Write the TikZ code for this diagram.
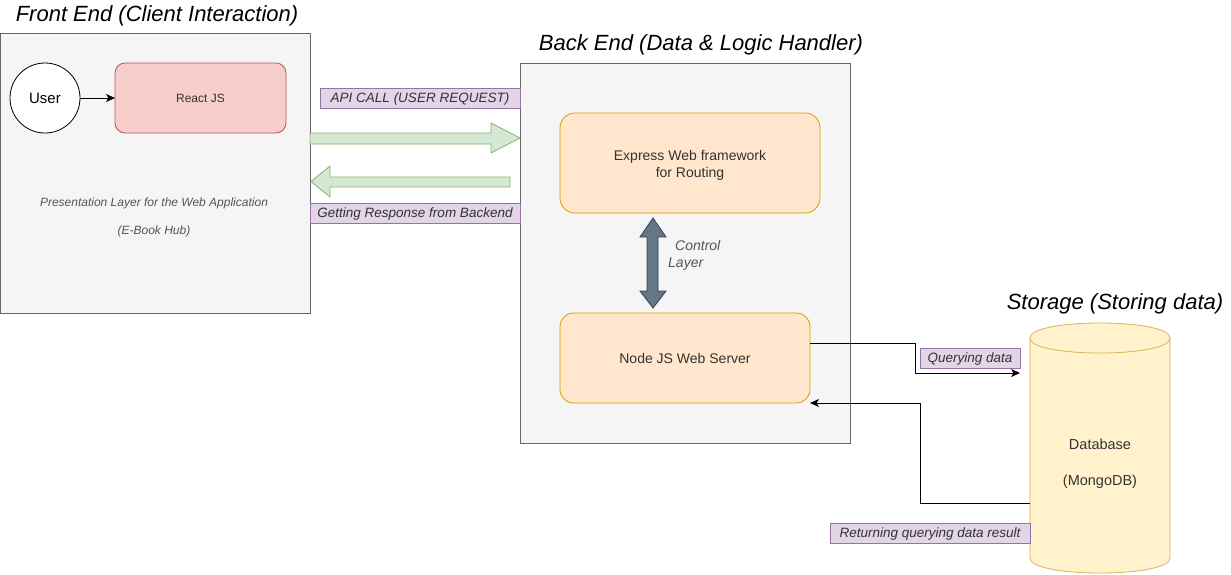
\documentclass[tikz,border=0pt]{standalone}
\usepackage{fontspec}
\setmainfont{Liberation Sans}
\usetikzlibrary{arrows.meta}
\definecolor{panelfill}{HTML}{F5F5F5}
\definecolor{panelline}{HTML}{666666}
\definecolor{redfill}{HTML}{F8CECC}
\definecolor{redline}{HTML}{B85450}
\definecolor{orfill}{HTML}{FFE6CC}
\definecolor{orline}{HTML}{D79B00}
\definecolor{grfill}{HTML}{D5E8D4}
\definecolor{grline}{HTML}{82B366}
\definecolor{pufill}{HTML}{E1D5E7}
\definecolor{puline}{HTML}{9673A6}
\definecolor{slfill}{HTML}{647687}
\definecolor{slline}{HTML}{314354}
\definecolor{yefill}{HTML}{FFF2CC}
\definecolor{yeline}{HTML}{D6B656}
\definecolor{txt}{HTML}{333333}
\definecolor{txtlight}{HTML}{555555}
\newcommand\fsz[2]{\fontsize{#1}{#2}\selectfont}
\begin{document}
\begin{tikzpicture}[x=1pt,y=-1pt,
  panel/.style={draw=panelline,fill=panelfill,line width=0.8pt,inner sep=0pt,outer sep=0pt},
  rbox/.style={draw=#1line,fill=#1fill,line width=0.8pt,inner sep=0pt,outer sep=0pt,align=center,text=txt},
  tag/.style={draw=puline,fill=pufill,line width=0.8pt,inner sep=0pt,outer sep=0pt,text=txt,font=\fsz{13.5}{16}\itshape,text height=9.7pt,text depth=0pt},
  title/.style={inner sep=0pt,font=\fsz{22}{26}\itshape,text=black},
  conn/.style={draw=black,line width=0.8pt,-{Stealth[length=9pt,width=8pt,inset=2.5pt]}},
  blockg/.style={draw=grline,fill=grfill,line width=0.8pt},
  blocks/.style={draw=slline,fill=slfill,line width=0.8pt},
  plain/.style={inner sep=0pt,align=center}
]
\useasboundingbox (0,0) rectangle (1231,574);

% panels
\node[panel,minimum width=310pt,minimum height=280pt] (fe) at (155,173) {};
\node[panel,minimum width=330pt,minimum height=380pt] (be) at (685,253) {};

% titles
\node[title] (tfe) at (157,16) {Front End (Client Interaction)};
\node[title] (tbe) at (701,45) {Back End (Data \& Logic Handler)};
\node[title] (tst) at (1115,304) {Storage (Storing data)};

% front end contents
\node[draw=black,fill=white,circle,line width=0.8pt,minimum size=70pt,inner sep=0pt,outer sep=0pt,font=\fsz{15}{18}] (user) at (45,98) {User};
\node[rbox=red,rounded corners=10pt,minimum width=171pt,minimum height=70pt,font=\fsz{12}{14}] (react) at (200.5,98) {React JS};
\draw[conn] (user) -- (react);
\node[plain,text=txtlight,font=\fsz{12}{14}\itshape] (pres) at (154,217.5) {Presentation Layer for the Web Application\\[14.5pt](E-Book Hub)};

% back end contents
\node[rbox=or,rounded corners=15pt,minimum width=260pt,minimum height=100pt] (exp) at (690,163) {};
\node[plain,text=txt,font=\fsz{14}{17}] (expt) at (690,165) {Express Web framework\\for Routing};
\node[rbox=or,rounded corners=13.5pt,minimum width=250pt,minimum height=90pt,font=\fsz{14}{17}] (nj) at (685,358) {Node JS Web Server};
\node[plain,align=left,anchor=west,text=txtlight,font=\fsz{14}{17}\itshape] (ctl) at (668,255.5) {\hspace{7pt}Control\\Layer};

% control double arrow
\draw[blocks] (647,237) -- (640,237) -- (653,218) -- (666,237) -- (658,237) -- (658,291) -- (666,291) -- (653,308) -- (640,291) -- (647,291) -- cycle;

% green block arrows
\draw[blockg] (310,133) -- (491,133) -- (491,123) -- (520,138) -- (491,153) -- (491,144) -- (310,144) -- cycle;
\draw[blockg] (510,177) -- (330,177) -- (330,166) -- (311,181.5) -- (330,197) -- (330,187) -- (510,187) -- cycle;

% tags
\node[tag,minimum width=200pt,minimum height=20pt] (tapi) at (420,98) {API CALL (USER REQUEST)};
\node[tag,minimum width=210pt,minimum height=20pt] (tresp) at (415,213) {Getting Response from Backend};

% database cylinder
\draw[fill=yefill,draw=yeline,line width=0.8pt] (1030,338) -- (1030,558) .. controls (1030,578) and (1170,578) .. (1170,558) -- (1170,338) .. controls (1170,318) and (1030,318) .. (1030,338) -- cycle;
\draw[draw=yeline,line width=0.8pt] (1030,338) .. controls (1030,358) and (1170,358) .. (1170,338);
\node[plain,text=txt,font=\fsz{14.5}{17}] (db) at (1100,464) {Database\\[19pt](MongoDB)};
\coordinate (dbin) at (1020,373);
\coordinate (dbout) at (1030,503);
\coordinate (njin) at (810,403);

% connectors to / from DB
\draw[conn] ([yshift=15pt]nj.east) -- (915,343) |- (dbin);
\draw[conn] (dbout) -| (920,403) -- (njin);
\node[tag,minimum width=100pt,minimum height=20pt] (tq) at (970,358) {Querying data};
\node[tag,minimum width=200pt,minimum height=20pt] (tr) at (930,533) {Returning querying data result};
\end{tikzpicture}
\end{document}
